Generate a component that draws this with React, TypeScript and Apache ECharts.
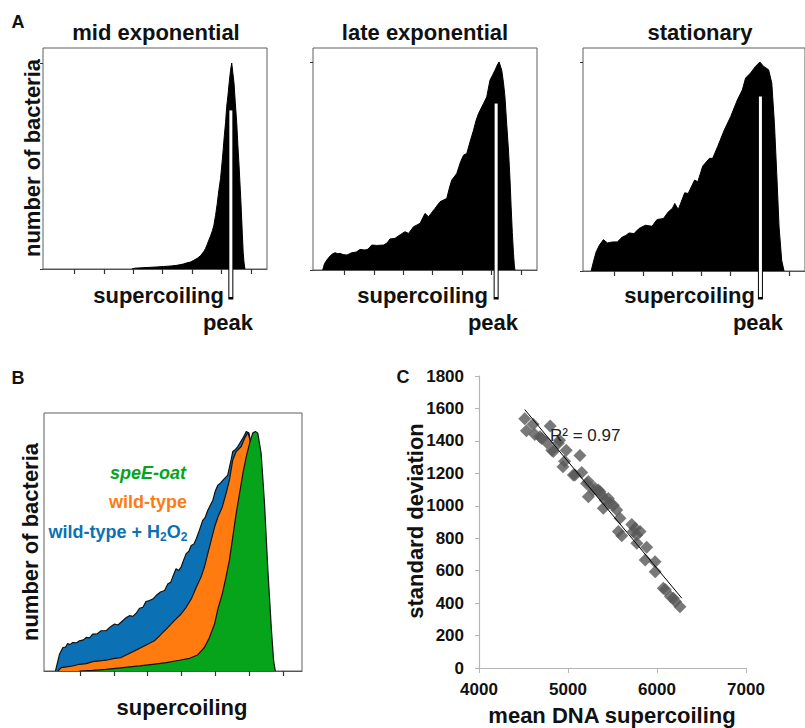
import React, { useEffect, useRef } from "react";
import * as echarts from "echarts";

const FONT = "'Liberation Sans', Arial, Helvetica, sans-serif";

// tick positions on the histogram x axes (supercoiling, arbitrary units)
const histTicks = [0, 1, 2, 3, 4, 5, 6];
const countTicks = [0, 1];

// Panel A: histograms (x: supercoiling, y: relative number of bacteria)
const midExponential = [
  [1.95, 0], [2.06, 0.004], [2.3, 0.006], [2.57, 0.008], [2.8, 0.01], [3.03, 0.012], [3.3, 0.015],
  [3.49, 0.018], [3.7, 0.024], [3.83, 0.03], [3.95, 0.034], [4.06, 0.042], [4.18, 0.052], [4.29, 0.065],
  [4.4, 0.085], [4.46, 0.1], [4.51, 0.117], [4.57, 0.14], [4.63, 0.16], [4.69, 0.185], [4.74, 0.21],
  [4.8, 0.26], [4.86, 0.32], [4.91, 0.38], [4.97, 0.44], [5.03, 0.53], [5.06, 0.58], [5.1, 0.65],
  [5.14, 0.71], [5.18, 0.79], [5.22, 0.84], [5.26, 0.9], [5.31, 0.965], [5.35, 1.0], [5.39, 0.95],
  [5.43, 0.9], [5.47, 0.81], [5.52, 0.71], [5.56, 0.6], [5.6, 0.5], [5.66, 0.335], [5.71, 0.174],
  [5.74, 0.08], [5.77, 0.03], [5.8, 0],
];
const lateExponential = [
  [-0.74, 0], [-0.68, 0.03], [-0.6, 0.048], [-0.49, 0.067], [-0.4, 0.078], [-0.32, 0.083], [-0.22, 0.078],
  [-0.15, 0.08], [-0.05, 0.074], [0.08, 0.072], [0.25, 0.083], [0.4, 0.086], [0.53, 0.099], [0.7, 0.096],
  [0.8, 0.1], [0.93, 0.12], [1.1, 0.118], [1.33, 0.12], [1.45, 0.13], [1.55, 0.149], [1.72, 0.152],
  [1.9, 0.17], [2.06, 0.184], [2.18, 0.176], [2.35, 0.208], [2.57, 0.224], [2.74, 0.272], [2.86, 0.256],
  [3.08, 0.296], [3.25, 0.328], [3.48, 0.344], [3.58, 0.4], [3.65, 0.432], [3.82, 0.464], [3.95, 0.52],
  [4.05, 0.552], [4.16, 0.56], [4.28, 0.62], [4.39, 0.672], [4.48, 0.72], [4.56, 0.752], [4.73, 0.8],
  [4.84, 0.832], [4.95, 0.912], [5.05, 0.94], [5.12, 0.96], [5.2, 0.985], [5.26, 1.0], [5.35, 0.96],
  [5.41, 0.9], [5.46, 0.832], [5.52, 0.7], [5.58, 0.576], [5.63, 0.44], [5.67, 0.304], [5.71, 0.18],
  [5.75, 0.08], [5.78, 0.02], [5.8, 0],
];
const stationary = [
  [-0.79, 0], [-0.72, 0.04], [-0.62, 0.091], [-0.51, 0.123], [-0.37, 0.15], [-0.3, 0.142], [-0.23, 0.134],
  [-0.06, 0.139], [0.11, 0.139], [0.28, 0.163], [0.4, 0.17], [0.51, 0.182], [0.68, 0.179], [0.85, 0.203],
  [1.07, 0.219], [1.3, 0.214], [1.47, 0.246], [1.69, 0.251], [1.86, 0.283], [2.0, 0.3], [2.08, 0.323],
  [2.2, 0.294], [2.42, 0.374], [2.54, 0.371], [2.76, 0.435], [2.87, 0.427], [3.04, 0.502], [3.27, 0.539],
  [3.38, 0.539], [3.55, 0.595], [3.78, 0.675], [4.0, 0.739], [4.23, 0.819], [4.4, 0.867], [4.51, 0.923],
  [4.68, 0.947], [4.85, 0.979], [5.0, 1.0], [5.13, 0.979], [5.3, 0.963], [5.41, 0.899], [5.5, 0.707],
  [5.58, 0.467], [5.66, 0.211], [5.75, 0.051], [5.83, 0],
];
// supercoiling peak markers: position, top inside the histogram, bottom below the axis
const peakX = [5.32, 5.16, 5.02];
const peakTop = [0.77, 0.8, 0.835];
const peakBottom = [-0.136, -0.13, -0.124];

// Panel B: overlaid histograms
const wildTypeH2O2 = [
  [-0.73, 0], [-0.61, 0.07], [-0.51, 0.098], [-0.43, 0.1], [-0.37, 0.115], [-0.3, 0.11], [-0.22, 0.119],
  [-0.1, 0.118], [-0.02, 0.126], [0.1, 0.13], [0.18, 0.14], [0.28, 0.138], [0.37, 0.154], [0.5, 0.155],
  [0.62, 0.168], [0.77, 0.168], [0.9, 0.185], [1.02, 0.196], [1.12, 0.192], [1.26, 0.21], [1.36, 0.222],
  [1.46, 0.231], [1.56, 0.228], [1.66, 0.241], [1.76, 0.262], [1.86, 0.266], [1.95, 0.29], [2.05, 0.294],
  [2.15, 0.3], [2.25, 0.315], [2.38, 0.33], [2.5, 0.336], [2.6, 0.364], [2.68, 0.37], [2.74, 0.392],
  [2.84, 0.427], [2.92, 0.42], [2.99, 0.434], [3.07, 0.465], [3.14, 0.49], [3.22, 0.5], [3.29, 0.524],
  [3.37, 0.53], [3.44, 0.552], [3.53, 0.587], [3.63, 0.629], [3.7, 0.64], [3.78, 0.671], [3.93, 0.713],
  [4.0, 0.75], [4.08, 0.776], [4.16, 0.785], [4.23, 0.797], [4.37, 0.818], [4.47, 0.881], [4.52, 0.916],
  [4.6, 0.925], [4.67, 0.937], [4.82, 0.972], [4.92, 1.0], [5.0, 0.993], [5.11, 0.91], [5.31, 0.63],
  [5.51, 0.28], [5.66, 0.07], [5.76, 0],
];
const wildType = [
  [-0.66, 0], [-0.56, 0.014], [-0.41, 0.017], [-0.22, 0.021], [-0.02, 0.028], [0.18, 0.031], [0.37, 0.039],
  [0.57, 0.042], [0.77, 0.045], [1.02, 0.053], [1.21, 0.056], [1.41, 0.07], [1.61, 0.084], [1.81, 0.098],
  [2.0, 0.112], [2.2, 0.126], [2.4, 0.154], [2.6, 0.182], [2.79, 0.21], [2.99, 0.238], [3.14, 0.266],
  [3.29, 0.301], [3.44, 0.35], [3.58, 0.392], [3.68, 0.434], [3.78, 0.49], [3.88, 0.545], [3.98, 0.601],
  [4.08, 0.643], [4.21, 0.685], [4.32, 0.741], [4.42, 0.797], [4.52, 0.881], [4.62, 0.916], [4.77, 0.937],
  [4.87, 0.972], [4.97, 0.996], [5.03, 0.965], [5.11, 0.839], [5.26, 0.559], [5.46, 0.238], [5.61, 0.07],
  [5.74, 0],
];
const speEoat = [
  [-0.02, 0], [0.37, 0.003], [0.77, 0.007], [1.26, 0.014], [1.76, 0.021], [2.15, 0.028], [2.55, 0.035],
  [2.94, 0.045], [3.24, 0.053], [3.48, 0.067], [3.68, 0.098], [3.83, 0.14], [3.98, 0.196], [4.08, 0.259],
  [4.21, 0.322], [4.32, 0.392], [4.42, 0.462], [4.52, 0.559], [4.62, 0.657], [4.72, 0.741], [4.82, 0.825],
  [4.92, 0.895], [5.02, 0.951], [5.11, 0.993], [5.19, 1.0], [5.26, 0.993], [5.36, 0.909], [5.46, 0.699],
  [5.56, 0.42], [5.66, 0.182], [5.73, 0.042], [5.78, 0],
];

// Panel C: mean DNA supercoiling vs standard deviation
const meanSupercoiling = [
  4514, 4533, 4608, 4627, 4685, 4706, 4762, 4800, 4818, 4835, 4891, 4905, 4943, 4962, 4980, 5060, 5079,
  5134, 5154, 5209, 5228, 5229, 5284, 5303, 5340, 5360, 5378, 5397, 5416, 5453, 5472, 5510, 5547, 5566,
  5584, 5604, 5716, 5734, 5754, 5772, 5773, 5810, 5867, 5884, 5978, 5980, 6071, 6094, 6151, 6183, 6207,
  6258,
];
const standardDeviation = [
  1537, 1462, 1503, 1440, 1426, 1414, 1390, 1492, 1343, 1334, 1385, 1404, 1240, 1275, 1343, 1190, 1189,
  1310, 1205, 1138, 1149, 1056, 1097, 1108, 1097, 1087, 1066, 984, 1036, 1045, 1015, 1004, 974, 841,
  923, 815, 885, 841, 861, 820, 769, 841, 666, 745, 655, 594, 491, 482, 441, 430, 410, 378,
];
const trendLine = [[4514, 1593], [6279, 430]];
const rSquared = "R² = 0.97";

const BLUE = "#0b71b4";
const ORANGE = "#ff7b0f";
const GREEN = "#06a41a";

export default function App() {
  const ref = useRef<HTMLDivElement>(null);
  useEffect(() => {
    const chart = echarts.init(ref.current!, null, { renderer: "svg" });

    const histGrid = (left: number, top: number, width: number, height: number) => ({
      left, top, width, height, show: true, borderColor: "#5e5e5e", borderWidth: 1,
      backgroundColor: "transparent",
    });
    const histX = (g: number) => ({
      gridIndex: g, type: "value", min: -1.07, max: 6.55,
      axisLine: { show: true, onZero: false, lineStyle: { color: "#555", width: 1.2 } },
      axisTick: { show: true, customValues: histTicks, length: 5, lineStyle: { color: "#333", width: 1.2 } },
      axisLabel: { show: false }, splitLine: { show: false },
    });
    const histY = (g: number, max: number, ticks: boolean) => ({
      gridIndex: g, type: "value", min: 0, max, position: "left",
      axisLine: { show: false, onZero: false },
      axisTick: { show: ticks, customValues: countTicks, length: 3, lineStyle: { color: "#333" } },
      axisLabel: { show: false }, splitLine: { show: false },
    });
    const histSeries = (g: number, data: number[][]) => ({
      type: "line", xAxisIndex: g, yAxisIndex: g, data, symbol: "none", showSymbol: false,
      lineStyle: { color: "#000", width: 1 }, areaStyle: { color: "#000", opacity: 1 }, z: 2,
    });
    const peakSeries = (g: number) => [
      {
        type: "line", xAxisIndex: g, yAxisIndex: g, clip: false, symbol: "none",
        data: [[peakX[g], peakTop[g]], [peakX[g], peakBottom[g]]],
        lineStyle: { color: "#000", width: 5, cap: "square" }, z: 5,
      },
      {
        type: "line", xAxisIndex: g, yAxisIndex: g, clip: false, symbol: "none",
        data: [[peakX[g], peakTop[g]], [peakX[g], peakBottom[g]]],
        lineStyle: { color: "#fff", width: 3, cap: "butt" }, z: 6,
      },
    ];
    const bSeries = (data: number[][], color: string, z: number) => ({
      type: "line", xAxisIndex: 3, yAxisIndex: 3, data, symbol: "none", showSymbol: false,
      lineStyle: { color: "#111", width: 1.2 }, areaStyle: { color, opacity: 1 }, z,
    });

    const bold = (text: string, x: number, y: number, size: number, extra: any = {}) => ({
      type: "text", x, y, ...(extra.rotation ? { rotation: extra.rotation } : {}),
      style: {
        text, fontFamily: FONT, fontSize: size, fontWeight: "bold", fill: extra.fill || "#111",
        align: extra.align || "center", verticalAlign: "middle", fontStyle: extra.fontStyle || "normal",
      },
      z: 100,
    });
    const plain = (v: number) => String(v);

    const option: any = {
      animation: false,
      backgroundColor: "#fff",
      grid: [
        histGrid(43, 48, 224, 221),
        histGrid(313, 48, 224, 222),
        histGrid(583, 48, 224, 223),
        histGrid(44, 413, 258, 258),
        { left: 479, top: 376, width: 267, height: 292, show: false },
      ],
      xAxis: [
        histX(0), histX(1), histX(2),
        { ...histX(3), max: 6.57 },
        {
          gridIndex: 4, type: "value", min: 4000, max: 7000, interval: 1000,
          axisLine: { show: true, onZero: false, lineStyle: { color: "#b5b5b5", width: 1.2 } },
          axisTick: { show: true, length: 5, lineStyle: { color: "#b5b5b5" } },
          axisLabel: {
            show: true, margin: 13, fontFamily: FONT, fontSize: 17, fontWeight: "bold", color: "#111",
            formatter: plain,
          },
          splitLine: { show: false },
        },
      ],
      yAxis: [
        histY(0, 1.073, true), histY(1, 1.067, true), histY(2, 1.067, true), histY(3, 1.077, false),
        {
          gridIndex: 4, type: "value", min: 0, max: 1800, interval: 200,
          axisLine: { show: true, onZero: false, lineStyle: { color: "#b5b5b5", width: 1.2 } },
          axisTick: { show: true, length: 4, lineStyle: { color: "#b5b5b5" } },
          axisLabel: {
            show: true, margin: 15, fontFamily: FONT, fontSize: 17, fontWeight: "bold", color: "#111",
            formatter: plain,
          },
          splitLine: { show: false },
        },
      ],
      series: [
        histSeries(0, midExponential), ...peakSeries(0),
        histSeries(1, lateExponential), ...peakSeries(1),
        histSeries(2, stationary), ...peakSeries(2),
        bSeries(wildTypeH2O2, BLUE, 2),
        bSeries(wildType, ORANGE, 3),
        bSeries(speEoat, GREEN, 4),
        {
          type: "scatter", xAxisIndex: 4, yAxisIndex: 4, symbol: "diamond", symbolSize: 13,
          data: meanSupercoiling.map((m, i) => [m, standardDeviation[i]]),
          itemStyle: { color: "#585858" }, z: 3,
        },
        {
          type: "line", xAxisIndex: 4, yAxisIndex: 4, data: trendLine, symbol: "none",
          lineStyle: { color: "#000", width: 1 }, z: 4,
        },
      ],
      graphic: [
        bold("A", 18, 22, 18),
        bold("mid exponential", 156, 32, 22),
        bold("late exponential", 425, 32, 22),
        bold("stationary", 700, 32, 22),
        bold("number of bacteria", 32, 158, 22, { rotation: Math.PI / 2 }),
        bold("supercoiling", 224, 295, 22, { align: "right" }),
        bold("supercoiling", 488, 295, 22, { align: "right" }),
        bold("supercoiling", 755, 295, 22, { align: "right" }),
        bold("peak", 228, 322, 22),
        bold("peak", 493, 322, 22),
        bold("peak", 758, 322, 22),
        bold("B", 18, 378, 18),
        bold("number of bacteria", 30, 542, 22, { rotation: Math.PI / 2 }),
        bold("supercoiling", 182, 707, 22),
        bold("speE-oat", 148, 473, 18, { fill: GREEN, fontStyle: "italic" }),
        bold("wild-type", 148, 502, 18, { fill: ORANGE }),
        {
          type: "text", x: 118, y: 532, z: 100,
          style: {
            text: "{a|wild-type + H}{s|2}{a|O}{s|2}",
            align: "center", verticalAlign: "middle",
            rich: {
              a: { fontFamily: FONT, fontSize: 18, fontWeight: "bold", fill: BLUE, lineHeight: 22 },
              s: { fontFamily: FONT, fontSize: 12, fontWeight: "bold", fill: BLUE, lineHeight: 22, padding: [9, 0, 0, 0] },
            },
          },
        },
        bold("C", 403, 377, 18),
        bold("standard deviation", 415, 521, 22, { rotation: Math.PI / 2 }),
        bold("mean DNA supercoiling", 612, 715, 22),
        {
          type: "text", x: 550, y: 435, z: 100,
          style: { text: rSquared, fontFamily: FONT, fontSize: 17, fill: "#222", align: "left", verticalAlign: "middle" },
        },
      ],
    };
    chart.setOption(option);
    return () => chart.dispose();
  }, []);
  return (
    <div
      ref={ref}
      style={{ position: "fixed", left: 0, top: 0, width: 805, height: 728, background: "#fff" }}
    />
  );
}
